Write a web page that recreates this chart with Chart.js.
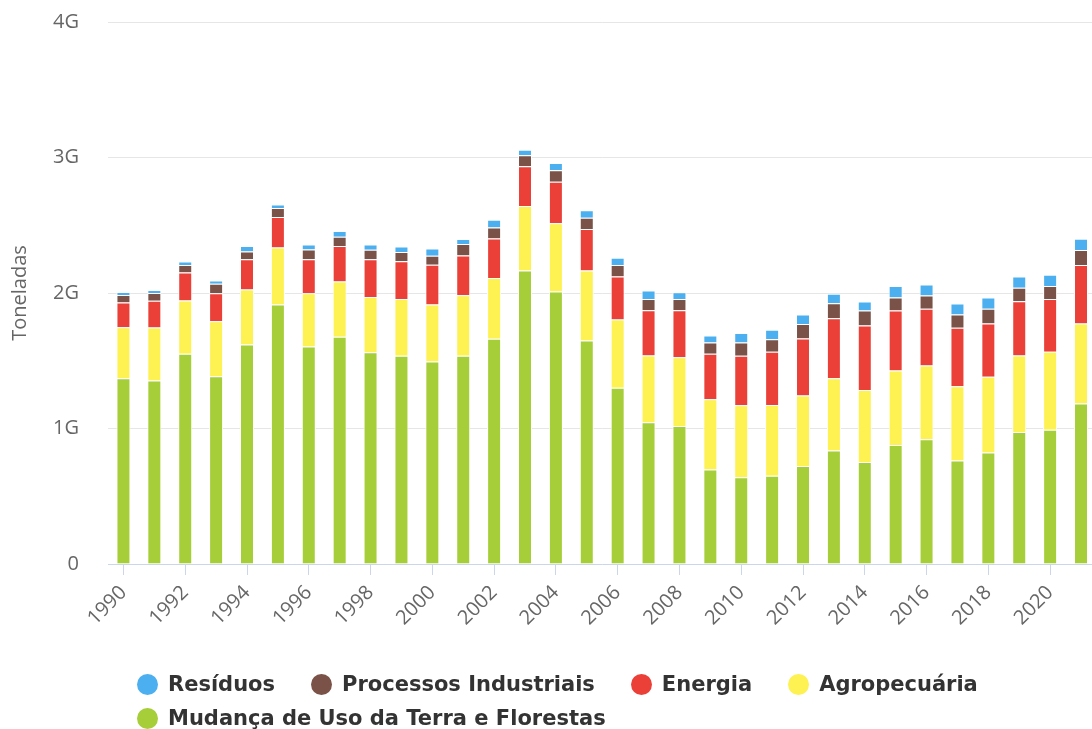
<!DOCTYPE html>
<html lang="pt">
<head>
<meta charset="utf-8">
<title>Emissões por setor</title>
<script src="https://cdn.jsdelivr.net/npm/chart.js@4.4.1/dist/chart.umd.min.js"></script>
<style>
    html, body { margin: 0; padding: 0; background: #fff; overflow: hidden; }
    #wrap { position: relative; width: 1104px; height: 729px; }
    #legend {
        position: absolute; left: 137px; top: 667px; width: 900px;
        display: flex; flex-wrap: wrap;
        font: bold 21px "DejaVu Sans", sans-serif; color: #333;
    }
    .item { display: flex; align-items: center; height: 34px; margin-right: 36px; }
    .dot { width: 21px; height: 21px; border-radius: 50%; margin-right: 10px; }
</style>
</head>
<body>
<div id="wrap">
    <canvas id="emissoesChart"></canvas>
    <div id="legend"></div>
</div>
<script>
// Emissões (bilhões de toneladas)
const years = ['1990', '1991', '1992', '1993', '1994', '1995', '1996', '1997', '1998', '1999',
    '2000', '2001', '2002', '2003', '2004', '2005', '2006', '2007', '2008', '2009',
    '2010', '2011', '2012', '2013', '2014', '2015', '2016', '2017', '2018', '2019',
    '2020', '2021'];
const mudanca = [1.37, 1.354, 1.551, 1.386, 1.62, 1.915, 1.605, 1.677, 1.563, 1.536,
    1.494, 1.536, 1.662, 2.166, 2.011, 1.649, 1.3, 1.046, 1.019, 0.697,
    0.64, 0.652, 0.724, 0.837, 0.753, 0.879, 0.921, 0.763, 0.822, 0.975,
    0.99, 1.184];
const agropecuaria = [0.377, 0.392, 0.394, 0.406, 0.406, 0.421, 0.394, 0.408, 0.407, 0.419,
    0.421, 0.448, 0.448, 0.476, 0.503, 0.517, 0.505, 0.493, 0.507, 0.519,
    0.532, 0.522, 0.519, 0.534, 0.532, 0.549, 0.544, 0.549, 0.559, 0.564,
    0.576, 0.591];
const energia = [0.182, 0.197, 0.207, 0.207, 0.224, 0.224, 0.251, 0.261, 0.28, 0.28,
    0.293, 0.293, 0.293, 0.293, 0.307, 0.306, 0.317, 0.334, 0.347, 0.335,
    0.364, 0.392, 0.421, 0.443, 0.475, 0.443, 0.419, 0.431, 0.394, 0.401,
    0.389, 0.431];
const processos = [0.056, 0.057, 0.054, 0.069, 0.057, 0.067, 0.071, 0.069, 0.069, 0.067,
    0.067, 0.084, 0.081, 0.081, 0.084, 0.083, 0.084, 0.082, 0.082, 0.084,
    0.099, 0.093, 0.108, 0.111, 0.111, 0.096, 0.098, 0.098, 0.109, 0.098,
    0.096, 0.111];
const residuos = [0.022, 0.022, 0.027, 0.025, 0.039, 0.027, 0.037, 0.042, 0.039, 0.041,
    0.054, 0.037, 0.057, 0.042, 0.055, 0.055, 0.054, 0.064, 0.051, 0.051,
    0.069, 0.069, 0.069, 0.069, 0.066, 0.084, 0.081, 0.082, 0.083, 0.084,
    0.083, 0.083];
const yTicks = [0, 1, 2, 3, 4];

// bottom to top of the stack
const seriesNames = ['Mudança de Uso da Terra e Florestas', 'Agropecuária', 'Energia', 'Processos Industriais', 'Resíduos'];
const seriesData = [mudanca, agropecuaria, energia, processos, residuos];
const seriesColors = ['#a6ce39', '#fef152', '#ea4038', '#7a5248', '#4cafef'];

function buildLegend(chart) {
    const box = document.getElementById('legend');
    // legend lists the top of the stack first
    for (let i = chart.data.datasets.length - 1; i >= 0; i--) {
        const ds = chart.data.datasets[i];
        const item = document.createElement('div');
        item.className = 'item';
        const dot = document.createElement('span');
        dot.className = 'dot';
        dot.style.background = ds.backgroundColor;
        const label = document.createElement('span');
        label.textContent = ds.label;
        item.appendChild(dot);
        item.appendChild(label);
        box.appendChild(item);
    }
}

function initChart() {
    if (typeof Chart === 'undefined') {
        console.error('Chart.js is not loaded!');
        return;
    }
    const ctx = document.getElementById('emissoesChart');
    const tickFont = { family: '"Open Sans", sans-serif', size: 20 };

    const chart = new Chart(ctx, {
        type: 'bar',
        data: {
            labels: years,
            datasets: seriesNames.map((name, i) => ({
                label: name,
                data: seriesData[i],
                backgroundColor: seriesColors[i],
                borderColor: '#ffffff',
                borderWidth: 1,
                barPercentage: 0.453,
                categoryPercentage: 1
            }))
        },
        options: {
            responsive: true,
            maintainAspectRatio: false,
            animation: false,
            layout: { padding: { top: 22, right: 1, bottom: 0, left: 0 } },
            plugins: {
                legend: { display: false },
                tooltip: { enabled: false }
            },
            scales: {
                x: {
                    stacked: true,
                    grid: {
                        display: true,
                        drawOnChartArea: false,
                        drawTicks: true,
                        tickLength: 11,
                        offset: false,
                        tickColor: (c) => (c.index % 2 === 0 ? '#ccd6eb' : 'rgba(0,0,0,0)')
                    },
                    border: { display: true, color: '#ccd6eb', width: 1 },
                    ticks: {
                        autoSkip: false,
                        minRotation: 45,
                        maxRotation: 45,
                        padding: 6,
                        color: '#666666',
                        font: tickFont,
                        callback: function(value, index) {
                            return index % 2 === 0 ? this.getLabelForValue(value) : '';
                        }
                    },
                    afterFit: (scale) => { scale.height = 165; }
                },
                y: {
                    stacked: true,
                    min: 0,
                    max: 4,
                    afterBuildTicks: (scale) => { scale.ticks = yTicks.map(v => ({ value: v })); },
                    grid: { color: '#e6e6e6', lineWidth: 1, drawTicks: false },
                    border: { display: false },
                    ticks: {
                        padding: 29,
                        color: '#666666',
                        font: tickFont,
                        callback: (v) => (v === 0 ? '0' : v + 'G')
                    },
                    title: {
                        display: true,
                        text: 'Toneladas',
                        color: '#666666',
                        font: tickFont,
                        padding: { top: 8, bottom: 0 }
                    },
                    afterFit: (scale) => {
                        scale.width = 108;
                        scale.paddingTop = 0;
                        scale.paddingBottom = 0;
                    }
                }
            }
        }
    });
    buildLegend(chart);
}

document.addEventListener('DOMContentLoaded', initChart);
</script>
</body>
</html>
